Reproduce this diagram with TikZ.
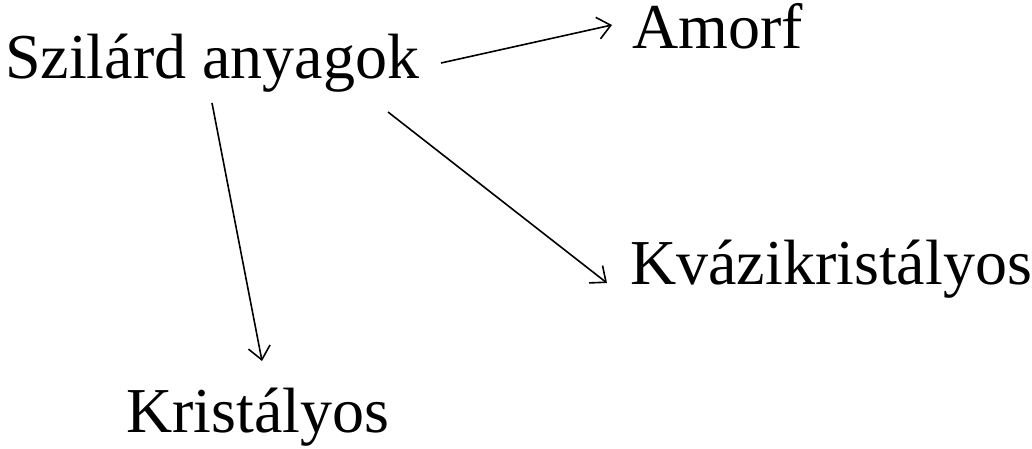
\documentclass[tikz,border=0pt]{standalone}
\usepackage{fontspec}
\setmainfont{Liberation Serif}
\usetikzlibrary{arrows.meta}
\begin{document}
\begin{tikzpicture}[x=1pt,y=-1pt,
  label/.style={anchor=base west,inner sep=0pt,font=\fontsize{64}{70}\selectfont},
  link/.style={line width=1.6pt,-{Straight Barb[length=13pt,width=22pt,line width=1.6pt]}}]
\useasboundingbox (0,0) rectangle (1032,448);
\node[label] (sz) at (5,78) {Szilárd anyagok};
\node[label] (am) at (632,48) {Amorf};
\node[label] (kr) at (126,432) {Kristályos};
\node[label] (kv) at (630,284) {Kvázikristályos};
% connector end points
\coordinate (a1) at (441,63);
\coordinate (a2) at (612,25);
\coordinate (b1) at (212,103);
\coordinate (b2) at (262,361);
\coordinate (c1) at (388,112);
\coordinate (c2) at (607,283);
\draw[link] (a1) -- (a2);
\draw[link] (b1) -- (b2);
\draw[link] (c1) -- (c2);
\end{tikzpicture}
\end{document}
